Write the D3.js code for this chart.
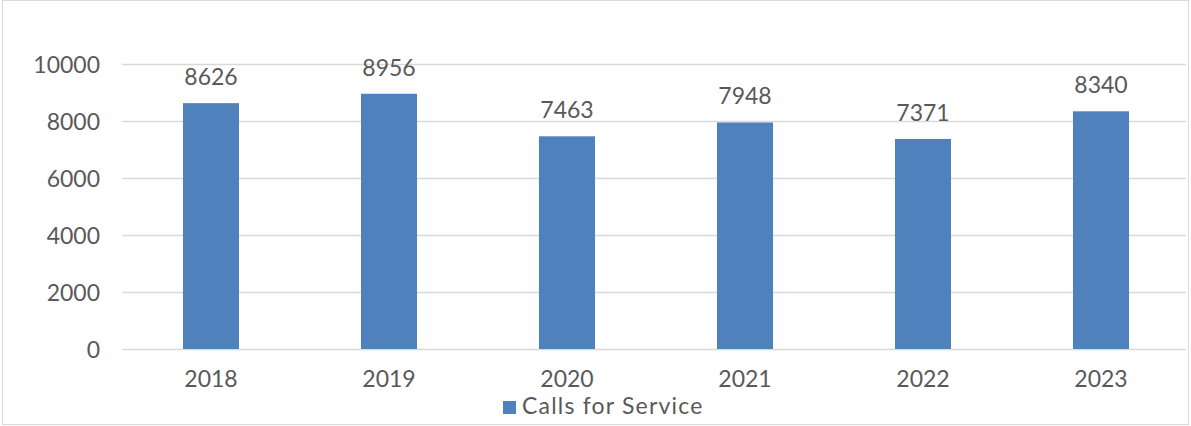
<!DOCTYPE html>
<html>
<head>
<meta charset="utf-8">
<script src="https://cdn.jsdelivr.net/npm/d3@7"></script>
<style>
  html, body { margin: 0; padding: 0; background: #fff; }
  svg { display: block; }
  text { font-family: Lato, "Open Sans", sans-serif; fill: #595959; }
</style>
</head>
<body>
<svg id="chart" width="1191" height="426"></svg>
<script>
const years = ["2018", "2019", "2020", "2021", "2022", "2023"];
const calls = [8626, 8956, 7463, 7948, 7371, 8340];
const yTicks = [0, 2000, 4000, 6000, 8000, 10000];
const seriesName = "Calls for Service";

const svg = d3.select("#chart");
const barColor = "#4f81bd";

// outer frame
svg.append("rect")
  .attr("x", 2.5).attr("y", 0.5)
  .attr("width", 1186).attr("height", 424)
  .attr("fill", "#fff").attr("stroke", "#d9d9d9").attr("stroke-width", 1);

const x = d3.scaleBand().domain(years).range([122, 1190]).padding(0);
const y = d3.scaleLinear().domain([0, 10000]).range([349, 64]);
const barW = x.step() * 0.315;

// gridlines
svg.append("g")
  .selectAll("line")
  .data(yTicks)
  .join("line")
  .attr("x1", 122).attr("x2", 1186)
  .attr("y1", d => Math.round(y(d)) + 0.5)
  .attr("y2", d => Math.round(y(d)) + 0.5)
  .attr("stroke", "#d9d9d9").attr("stroke-width", 1.5);

// y axis labels
const yAxis = d3.axisLeft(y).tickValues(yTicks).tickSize(0).tickPadding(0).tickFormat(d3.format("d"));
const yg = svg.append("g").attr("transform", "translate(100,0)").call(yAxis);
yg.select(".domain").remove();
yg.selectAll("text")
  .attr("font-size", 23)
  .attr("dy", "0.35em")
  .style("font-family", "Lato, 'Open Sans', sans-serif")
  .attr("fill", "#595959");

// bars
svg.append("g")
  .selectAll("rect")
  .data(years.map((yr, i) => ({ yr, v: calls[i] })))
  .join("rect")
  .attr("x", d => x(d.yr) + x.bandwidth() / 2 - barW / 2)
  .attr("width", barW)
  .attr("y", d => y(d.v))
  .attr("height", d => y(0) - y(d.v))
  .attr("fill", barColor);

// value labels
svg.append("g")
  .selectAll("text")
  .data(years.map((yr, i) => ({ yr, v: calls[i] })))
  .join("text")
  .attr("x", d => x(d.yr) + x.bandwidth() / 2)
  .attr("y", d => y(d.v) - 18)
  .attr("text-anchor", "middle")
  .attr("font-size", 23)
  .text(d => d.v);

// x axis labels
const xAxis = d3.axisBottom(x).tickSize(0).tickPadding(0);
const xg = svg.append("g").attr("transform", "translate(0,387)").call(xAxis);
xg.select(".domain").remove();
xg.selectAll("text")
  .attr("font-size", 23)
  .attr("dy", 0)
  .attr("y", 0)
  .style("font-family", "Lato, 'Open Sans', sans-serif")
  .attr("fill", "#595959");

// legend
const lg = svg.append("g").attr("transform", "translate(503,401)");
lg.append("rect").attr("width", 13).attr("height", 13).attr("fill", barColor);
lg.append("text").attr("x", 19).attr("y", 13).attr("font-size", 23)
  .attr("letter-spacing", 1.2).text(seriesName);
</script>
</body>
</html>
